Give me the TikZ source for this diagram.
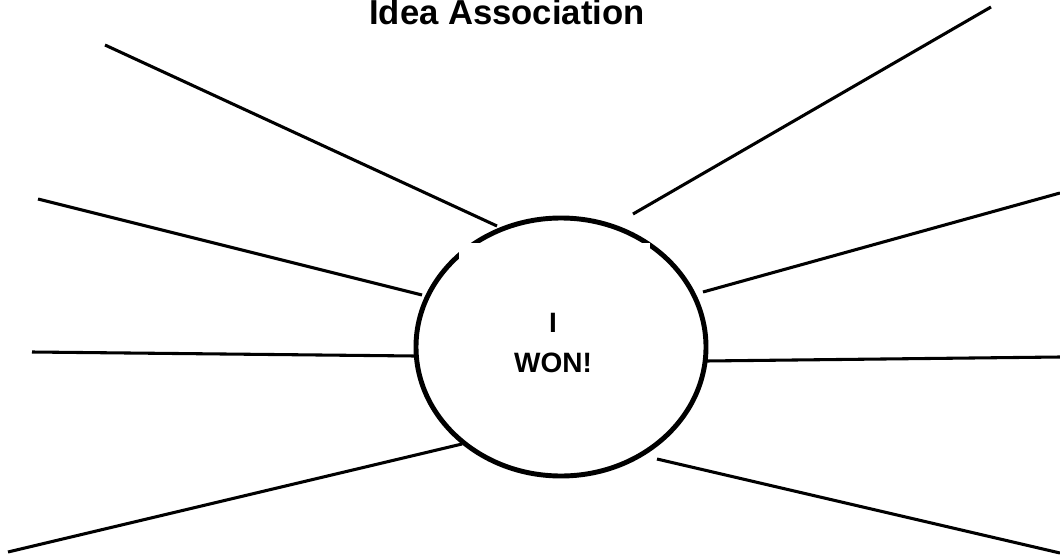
\documentclass[tikz,border=0pt]{standalone}
\usepackage{fontspec}
\setmainfont{Liberation Sans}
\usetikzlibrary{shapes.geometric}
\begin{document}
\begin{tikzpicture}[x=0.75pt,y=-0.75pt,
    spoke/.style={line width=2.3pt},
    hub/.style={draw,ellipse,line width=3.7pt,minimum width=217.5pt,minimum height=193.5pt,inner sep=0pt},
    cover/.style={fill=white,inner sep=0pt,minimum width=143.25pt,minimum height=138pt,anchor=north}]
  \useasboundingbox (0,0) rectangle (1060,560);
  \foreach \n/\ox/\oy/\ix/\iy in {
    1/105/45/497/226,
    2/38/199/422/295,
    3/32/352/415/356,
    4/8/552/462/444,
    5/991/7/633/214,
    6/1060/193/703/292,
    7/1060/357/706/361,
    8/1060/553/657/459} {
    \coordinate (out\n) at (\ox,\oy);
    \coordinate (in\n) at (\ix,\iy);
    \draw[spoke] (out\n) -- (in\n);
  }
  \node[hub] (idea) at (561,347) {};
  \node[cover] (box) at (554.5,243) {};
  \node[font=\bfseries\fontsize{21}{29.5}\selectfont,align=center] (won) at (553,343) {I\\WON!};
  \node[font=\bfseries\fontsize{26}{30}\selectfont,anchor=base] (title) at (507,25) {Idea Association};
\end{tikzpicture}
\end{document}
